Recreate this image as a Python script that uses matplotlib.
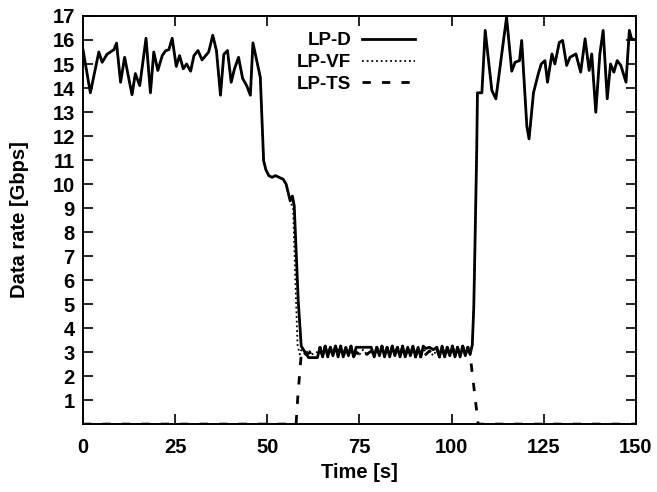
import matplotlib
matplotlib.use("Agg")
import matplotlib.pyplot as plt

plt.rcParams['font.family'] = ['Liberation Sans', 'DejaVu Sans']
plt.rcParams['font.weight'] = 'bold'

# LP-D
t_head = [0, 2, 4.3, 5.2, 6.5, 8.4, 9.1, 10.2, 11.3, 12, 13.3, 14.2, 15.4, 17.1,
          18.3, 19.2, 20.3, 21.5, 22.4, 23.3, 24.2, 25.3, 26.2, 27.2, 28.1, 29.2,
          30.1, 31.2, 32.3, 34.1, 35.2, 36.2, 37.3, 38.2, 39.2, 40.2, 41.1, 42.2,
          43.3, 44.4, 45.4, 46.1, 48.1, 49.0, 49.6, 50.4, 51.3, 52.2, 54.3, 55.1,
          56.2, 56.8, 57.3, 58.4, 59.2, 60.0, 61.2, 62.0, 63.6]
d_head = [15.6, 13.8, 15.5, 15.07, 15.4, 15.6, 15.87, 14.24, 15.28, 14.73, 13.72,
          14.6, 14.1, 16.07, 13.8, 15.5, 14.73, 15.35, 15.55, 15.6, 16.07, 14.9,
          15.35, 14.8, 15.0, 14.7, 15.35, 15.56, 15.17, 15.5, 16.2, 15.56, 13.7,
          15.4, 15.56, 14.24, 14.8, 15.28, 14.4, 14.1, 13.7, 15.88, 14.45, 10.97,
          10.6, 10.35, 10.28, 10.35, 10.2, 10.0, 9.3, 9.5, 9.1, 5.1, 3.25, 3.05,
          2.77, 2.77, 2.77]

# middle plateau
t_mid = [64.3, 65.0, 65.7, 66.4, 67.1, 67.8, 68.5, 69.2, 69.9, 70.6, 71.3, 72.0,
         72.7, 73.4, 74.1, 75.0, 76.0, 77.0, 78.2, 79.0, 79.7, 80.4, 81.1, 81.8,
         82.5, 83.2, 83.9, 84.6, 85.3, 86.0, 86.7, 87.4, 88.1, 88.8, 89.5, 90.2,
         90.9, 91.6, 92.3, 93.0, 94.0, 95.0, 96.0, 96.7, 97.4, 98.1, 98.8, 99.5,
         100.2, 100.9, 101.6, 102.3, 103.0, 103.7, 104.4, 105.0]
d_mid = [3.2, 2.8, 3.25, 2.8, 3.2, 2.85, 3.25, 2.8, 3.25, 2.8, 3.2, 2.85, 3.25,
         2.8, 3.2, 3.2, 3.2, 3.2, 3.2, 2.8, 3.2, 2.85, 3.25, 2.8, 3.2, 2.8, 3.25,
         2.85, 3.2, 2.8, 3.25, 2.8, 3.2, 2.85, 3.25, 2.8, 3.2, 2.8, 3.25, 3.15,
         3.2, 3.1, 3.2, 2.8, 3.25, 2.8, 3.2, 2.85, 3.25, 2.8, 3.2, 2.8, 3.25, 2.85,
         3.2, 2.9]
vf_mid = [3.2, 2.8, 3.25, 2.8, 3.2, 2.85, 3.25, 2.8, 3.25, 2.8, 3.2, 2.85, 3.25,
          2.8, 3.0, 2.9, 3.1, 2.9, 3.05, 2.8, 3.2, 2.85, 3.25, 2.8, 3.2, 2.8, 3.25,
          2.85, 3.2, 2.8, 3.25, 2.8, 3.2, 2.85, 3.25, 2.8, 3.2, 2.8, 3.25, 2.9,
          3.05, 2.85, 3.1, 2.8, 3.25, 2.8, 3.2, 2.85, 3.25, 2.8, 3.2, 2.8, 3.25, 2.85,
          3.2, 2.9]

t_tail = [105.6, 106.0, 106.3, 106.8, 107.0, 108.2, 109.1, 110.9, 112, 114.9, 116.3,
          117.2, 118.4, 119, 120.4, 121, 122.2, 123.5, 124.3, 125.3, 126, 127.2,
          128, 129.2, 130.1, 131.2, 132.1, 133.7, 135, 136.2, 137.3, 138, 139.1,
          140.2, 141.1, 142.2, 143.1, 144, 144.9, 145.9, 147.3, 148.2, 148.8, 150]
d_tail = [3.3, 4.85, 7.2, 11.4, 13.8, 13.8, 16.4, 13.9, 13.55, 16.95, 14.7, 15.07,
          15.14, 15.98, 12.4, 11.88, 13.8, 14.59, 15.0, 15.14, 14.24, 15.42, 15.0,
          15.9, 15.98, 14.94, 15.28, 15.42, 14.66, 16.05, 14.73, 15.42, 12.99,
          15.42, 16.4, 13.55, 15.0, 14.66, 15.14, 14.94, 14.24, 16.4, 16.05, 16.0]

# LP-VF leaves the LP-D curve only around the drop
vf_drop_t = [56.2, 57.0, 57.5, 58.2, 58.8, 59.5, 60.3, 61.2, 62.0, 63.5]
vf_drop = [9.3, 9.0, 6.5, 3.3, 2.9, 3.2, 2.9, 3.1, 2.9, 3.0]

# LP-TS
ts_t = [0, 57.8, 58.3, 59.3, 60.5, 62, 63.5] + t_mid + [107.2, 150]
ts_v = [0, 0, 1.2, 3.1, 2.9, 3.0, 2.95] + vf_mid + [0, 0]

t_d = t_head + t_mid + t_tail
lp_d = d_head + d_mid + d_tail
t_vf = t_head[:50] + vf_drop_t + t_mid + t_tail
lp_vf = d_head[:50] + vf_drop + vf_mid + d_tail

fig = plt.figure(figsize=(6.57, 4.92), dpi=100)
ax = fig.add_axes([0.1263, 0.138, 0.8417, 0.8295])

ax.plot(t_d, lp_d, color='black', lw=2.0, label='LP-D')
ax.plot(t_vf, lp_vf, color='black', lw=1.3, linestyle=(0, (1, 1.6)), label='LP-VF')
ax.plot(ts_t, ts_v, color='black', lw=2.0, linestyle=(0, (3, 4)), label='LP-TS')

ax.set_xlim(0, 150)
ax.set_ylim(0, 17)
ax.set_xticks([0, 25, 50, 75, 100, 125, 150])
ax.set_yticks(range(1, 18))
ax.tick_params(direction='in', top=True, right=True, length=7, width=1.2,
               labelsize=14.5)
ax.tick_params(axis='x', pad=10)
ax.tick_params(axis='y', pad=6)
for lab in ax.get_xticklabels() + ax.get_yticklabels():
    lab.set_fontweight('bold')
for s in ax.spines.values():
    s.set_linewidth(1.4)

ax.set_xlabel('Time [s]', fontsize=14.5, fontweight='bold', labelpad=4)
ax.set_ylabel('Data rate [Gbps]', fontsize=14.5, fontweight='bold', labelpad=17)

leg = ax.legend(loc='upper right', bbox_to_anchor=(0.6, 0.96), frameon=False,
                markerfirst=False, fontsize=13.5, handlelength=2.8,
                labelspacing=0.24, handletextpad=0.6, borderaxespad=0,
                borderpad=0)
for txt in leg.get_texts():
    txt.set_fontweight('bold')

plt.savefig('out.png', dpi=100)
